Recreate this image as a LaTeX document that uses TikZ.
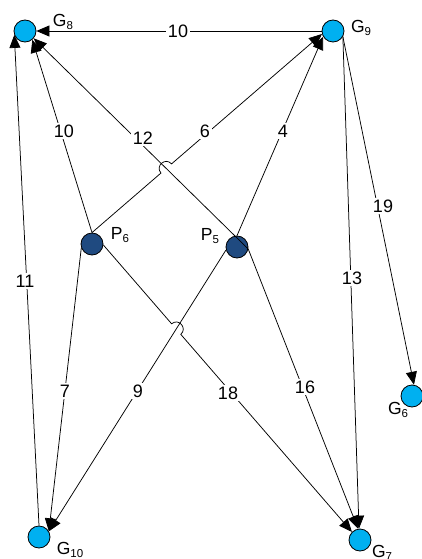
\documentclass[tikz,border=0pt]{standalone}
\usepackage{fontspec}
\setmainfont{Liberation Sans}
\usetikzlibrary{arrows.meta,calc,intersections}
\definecolor{gblue}{HTML}{00B0F0}
\definecolor{pblue}{HTML}{1F4A80}
\newcommand\mysub[1]{\raisebox{-3.5pt}{\fontsize{11.5}{13}\selectfont #1}}
\begin{document}
\begin{tikzpicture}[x=1pt,y=1pt,
  gnode/.style={circle,draw=black,line width=0.8pt,fill=gblue,minimum size=22pt,inner sep=0pt},
  pnode/.style={circle,draw=black,line width=0.8pt,fill=pblue,minimum size=22pt,inner sep=0pt},
  edge/.style={draw=black,line width=0.75pt,-{Triangle[length=13pt,width=11pt]}},
  elab/.style={fill=white,inner sep=1.5pt,font=\fontsize{18}{20}\selectfont},
  nlab/.style={inner sep=0pt,font=\fontsize{17.5}{20}\selectfont},
  hop/.style={bend left=90,looseness=1.7}]
\useasboundingbox (0,0) rectangle (422,-559);
\fill[white] (0,0) rectangle (422,-559);
% nodes
\node[gnode] (G8) at (25,-31) {};
\node[gnode] (G9) at (333,-31) {};
\node[pnode] (P6) at (92,-244) {};
\node[pnode] (P5) at (237,-247) {};
\node[gnode] (G6) at (412,-396) {};
\node[gnode] (G10) at (39,-537) {};
\node[gnode] (G7) at (360,-540) {};
% node labels
\node[nlab] (tG8) at (63,-22) {G\mysub{8}};
\node[nlab] (tG9) at (361,-28) {G\mysub{9}};
\node[nlab] (tP6) at (120,-235) {P\mysub{6}};
\node[nlab] (tP5) at (210,-236) {P\mysub{5}};
\node[nlab] (tG6) at (398,-410) {G\mysub{6}};
\node[nlab] (tG10) at (70,-550) {G\mysub{10}};
\node[nlab] (tG7) at (382,-553) {G\mysub{7}};
% hop intersections
\path[name path=l6] (P6.north) -- (G9.195);
\path[name path=l12] (P5.-10) -- (G8.-40);
\path[name intersections={of=l6 and l12,by=X1}];
\path[name path=l18] (P6.-5) -- (G7.135);
\path[name path=l9] (P5.195) -- (G10.30);
\path[name intersections={of=l18 and l9,by=X2}];
% edges
\draw[edge] (G9.west) -- (G8.east);
\draw[edge] (P6.north) -- (G8.-50);
\draw[edge] (P5.-10) -- (G8.-40);
\draw[edge] (P6.north) -- ($(X1)!7pt!(P6.north)$) to[hop] ($(X1)!7pt!(G9.195)$) -- (G9.195);
\draw[edge] (P5.north) -- (G9.210);
\draw[edge] (G10.north) -- (G8.200);
\draw[edge] (P6.200) -- (G10.30);
\draw[edge] (P5.195) -- (G10.30);
\draw[edge] (P6.-5) -- ($(X2)!7pt!(P6.-5)$) to[hop] ($(X2)!7pt!(G7.135)$) -- (G7.135);
\draw[edge] (P5.-10) -- (G7.100);
\draw[edge] (G9.-30) -- (G7.95);
\draw[edge] (G9.-30) -- (G6.80);
% edge labels
\node[elab] (e1) at (178,-31) {10};
\node[elab] (e2) at (64,-131) {10};
\node[elab] (e3) at (143,-138) {12};
\node[elab] (e4) at (205,-131) {6};
\node[elab] (e5) at (283,-131) {4};
\node[elab] (e6) at (25,-281) {11};
\node[elab] (e7) at (383,-206) {19};
\node[elab] (e8) at (352,-278) {13};
\node[elab] (e9) at (65,-391) {7};
\node[elab] (e10) at (138,-391) {9};
\node[elab] (e11) at (228,-393) {18};
\node[elab] (e12) at (305,-387) {16};
\end{tikzpicture}
\end{document}
